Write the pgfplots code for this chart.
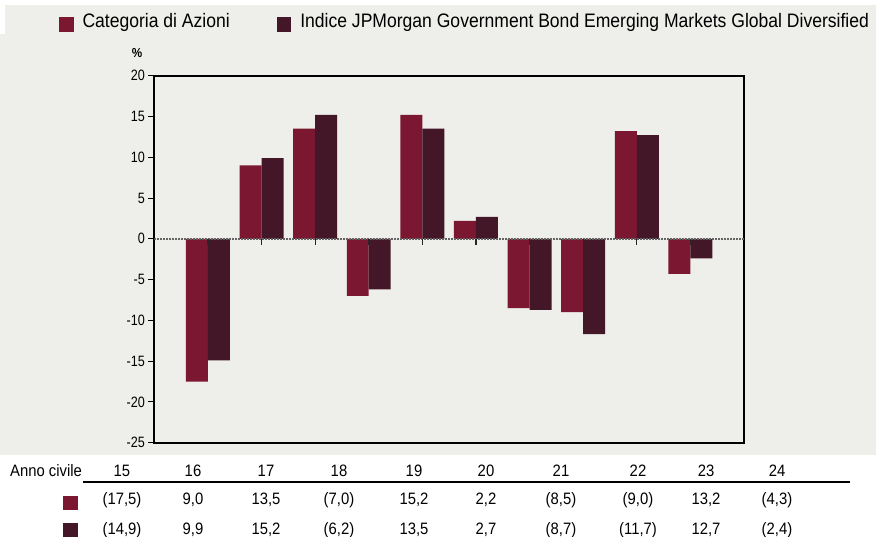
\documentclass[border=0pt]{standalone}
\usepackage{pgfplots}
\pgfplotsset{compat=1.18}
\usepackage{fontspec}
\setmainfont{Liberation Sans}[FakeStretch=0.9]
\newfontfamily\tickfont{Liberation Sans}[FakeStretch=0.84]
\definecolor{bggray}{RGB}{238,238,234}
\definecolor{barA}{RGB}{124,23,50}
\definecolor{barB}{RGB}{67,22,40}
\definecolor{zline}{RGB}{100,100,100}
\newcommand{\tfont}{\fontsize{16.5bp}{18bp}\selectfont}
\begin{document}
\begin{tikzpicture}
\fill[white] (0,0) rectangle (876bp,-537bp);
\fill[bggray] (5bp,-5bp) rectangle (876bp,-34bp);
\fill[bggray] (0bp,-34bp) rectangle (876bp,-455bp);
\begin{axis}[
  scale only axis, width=589.7bp, height=367bp,
  at={(154.3bp,-75.7bp)}, anchor=north west,
  xmin=0, xmax=11, ymin=-25, ymax=20,
  xtick=\empty, ytick={-25,-20,...,20},
  ytick pos=left, tick align=outside, major tick length=6bp,
  y tick style={black, line width=1bp},
  y tick label style={font=\tickfont\fontsize{15bp}{16bp}\selectfont},
  /pgf/number format/assume math mode=true,
  axis line style={black, line width=1.8bp},
  ylabel={\%},
  ylabel style={rotate=-90, at={(axis description cs:-0.0293,1.0619)}, anchor=center, font=\bfseries\fontsize{13bp}{15bp}\selectfont},
  legend style={at={(axis description cs:-0.1616,1.1708)}, anchor=north west, draw=none, fill=none, inner sep=0pt, outer sep=0pt,
    font=\fontsize{19.5bp}{22bp}\selectfont, legend columns=2, nodes={inner sep=0pt},
    /tikz/every odd column/.append style={column sep=9bp},
    /tikz/every even column/.append style={column sep=47bp}},
  legend cell align=left,
]
\addplot[ybar, bar width=0.41, bar shift=-0.205, fill=barA, draw=none,
  legend image code/.code={\fill[barA] (0bp,-10.7bp) rectangle (14.5bp,3.7bp);}]
  coordinates {(1,-17.5) (2,9.0) (3,13.5) (4,-7.0) (5,15.2) (6,2.2) (7,-8.5) (8,-9.0) (9,13.2) (10,-4.3)};
\addlegendentry{Categoria di Azioni}
\addplot[ybar, bar width=0.41, bar shift=0.205, fill=barB, draw=none,
  legend image code/.code={\fill[barB] (0bp,-10.7bp) rectangle (14.5bp,3.7bp);}]
  coordinates {(1,-14.9) (2,9.9) (3,15.2) (4,-6.2) (5,13.5) (6,2.7) (7,-8.7) (8,-11.7) (9,12.7) (10,-2.4)};
\addlegendentry{Indice JPMorgan Government Bond Emerging Markets Global Diversified}
\draw[zline, line width=2.4bp, dash pattern=on 2bp off 1bp] (axis cs:0,0) -- (axis cs:11,0);
\pgfplotsinvokeforeach{1,...,10}{\draw[black!85, line width=1.2bp] (axis cs:#1,0) -- ([yshift=-6.5bp]axis cs:#1,0);}
\end{axis}
% data table below the chart
\node[anchor=base west, font=\tfont, inner sep=0pt] at (10bp,-476bp) {Anno civile};
\draw[black, line width=2bp] (83bp,-482bp) -- (850bp,-482bp);
\fill[barA] (63bp,-496bp) rectangle (78bp,-510bp);
\fill[barB] (63bp,-523bp) rectangle (78bp,-537bp);
\begin{scope}[every node/.style={anchor=base, font=\tfont, inner sep=0pt}]
\node at (122bp,-476bp) {15};
\node at (193bp,-476bp) {16};
\node at (266bp,-476bp) {17};
\node at (339bp,-476bp) {18};
\node at (414bp,-476bp) {19};
\node at (486bp,-476bp) {20};
\node at (561bp,-476bp) {21};
\node at (638bp,-476bp) {22};
\node at (706bp,-476bp) {23};
\node at (777bp,-476bp) {24};
\node at (122bp,-504.5bp) {(17,5)};
\node at (193bp,-504.5bp) {9,0};
\node at (266bp,-504.5bp) {13,5};
\node at (339bp,-504.5bp) {(7,0)};
\node at (414bp,-504.5bp) {15,2};
\node at (486bp,-504.5bp) {2,2};
\node at (561bp,-504.5bp) {(8,5)};
\node at (638bp,-504.5bp) {(9,0)};
\node at (706bp,-504.5bp) {13,2};
\node at (777bp,-504.5bp) {(4,3)};
\node at (122bp,-534.5bp) {(14,9)};
\node at (193bp,-534.5bp) {9,9};
\node at (266bp,-534.5bp) {15,2};
\node at (339bp,-534.5bp) {(6,2)};
\node at (414bp,-534.5bp) {13,5};
\node at (486bp,-534.5bp) {2,7};
\node at (561bp,-534.5bp) {(8,7)};
\node at (638bp,-534.5bp) {(11,7)};
\node at (706bp,-534.5bp) {12,7};
\node at (777bp,-534.5bp) {(2,4)};
\end{scope}
\pgfresetboundingbox
\useasboundingbox (0,0) rectangle (876bp,-537bp);
\end{tikzpicture}
\end{document}
